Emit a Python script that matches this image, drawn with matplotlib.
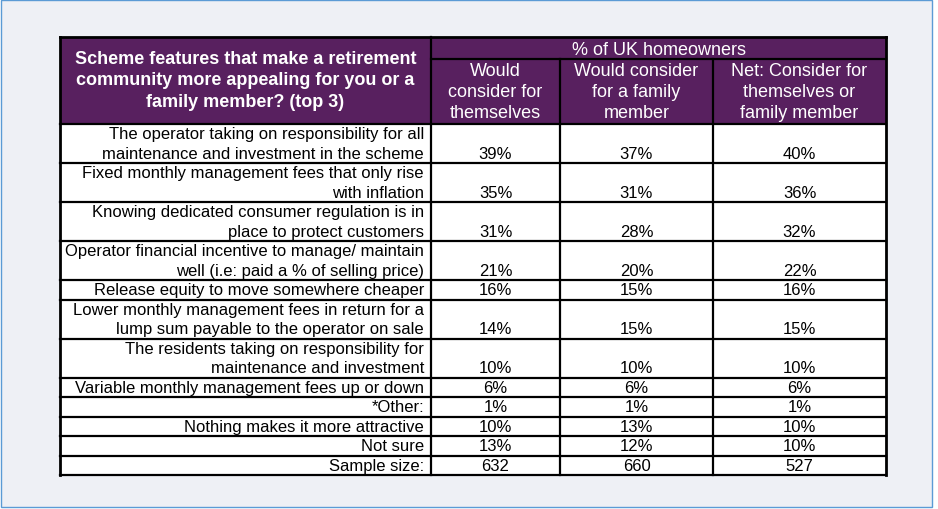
import matplotlib.pyplot as plt
from matplotlib.patches import Rectangle

plt.rcParams['font.family'] = ['Liberation Sans', 'DejaVu Sans']

# table content
title = "Scheme features that make a retirement\ncommunity more appealing for you or a\nfamily member? (top 3)"
group_header = "% of UK homeowners"
col_headers = [
    "Would\nconsider for\nthemselves",
    "Would consider\nfor a family\nmember",
    "Net: Consider for\nthemselves or\nfamily member",
]
features = [
    "The operator taking on responsibility for all\nmaintenance and investment in the scheme",
    "Fixed monthly management fees that only rise\nwith inflation",
    "Knowing dedicated consumer regulation is in\nplace to protect customers",
    "Operator financial incentive to manage/ maintain\nwell (i.e: paid a % of selling price)",
    "Release equity to move somewhere cheaper",
    "Lower monthly management fees in return for a\nlump sum payable to the operator on sale",
    "The residents taking on responsibility for\nmaintenance and investment",
    "Variable monthly management fees up or down",
    "*Other:",
    "Nothing makes it more attractive",
    "Not sure",
]
themselves = [39, 35, 31, 21, 16, 14, 10, 6, 1, 10, 13]
family = [37, 31, 28, 20, 15, 15, 10, 6, 1, 13, 12]
net = [40, 36, 32, 22, 16, 15, 10, 6, 1, 10, 10]
sample_size = [632, 660, 527]

purple = '#58205f'
bg = '#eef0f5'

fig = plt.figure(figsize=(9.38, 5.10), dpi=100)
fig.patch.set_facecolor('white')
ax = fig.add_axes([0, 0, 1, 1])
ax.set_xlim(0, 938)
ax.set_ylim(510, 0)
ax.axis('off')

# panel behind the table
ax.add_patch(Rectangle((1, 1), 931, 507, facecolor=bg, edgecolor='#5b9bd5', lw=1))

col_x = [60, 431, 560, 713, 886]
top, mid, head_bottom = 38, 60, 125
pitch = 19.5
fs = 12
hfs = 13

# header block
ax.add_patch(Rectangle((col_x[0], top), col_x[-1] - col_x[0], head_bottom - top,
                       facecolor=purple, edgecolor='none'))
for i, line in enumerate(title.split('\n')):
    ax.text((col_x[0] + col_x[1]) / 2, 64 + i * 21.3, line, color='white',
            fontsize=hfs, fontweight='bold', ha='center', va='baseline')
ax.text((col_x[1] + col_x[-1]) / 2, 55, group_header, color='white',
        fontsize=hfs, ha='center', va='baseline')
for c, hdr in enumerate(col_headers):
    for i, line in enumerate(hdr.split('\n')):
        ax.text((col_x[c + 1] + col_x[c + 2]) / 2, 76 + i * 20.8, line, color='white',
                fontsize=hfs, ha='center', va='baseline')

# body rows
rows = [(f, [f"{a}%", f"{b}%", f"{c}%"]) for f, a, b, c in zip(features, themselves, family, net)]
rows.append(("Sample size:", [str(s) for s in sample_size]))

y = head_bottom
bounds = [y]
for label, vals in rows:
    lines = label.split('\n')
    h = pitch * len(lines)
    ax.add_patch(Rectangle((col_x[0], y), col_x[-1] - col_x[0], h,
                           facecolor='white', edgecolor='none'))
    bottom = y + h
    for i, line in enumerate(reversed(lines)):
        ax.text(col_x[1] - 7, bottom - 5 - i * pitch, line, fontsize=fs,
                ha='right', va='baseline', color='black')
    for c, v in enumerate(vals):
        ax.text((col_x[c + 1] + col_x[c + 2]) / 2, bottom - 5, v, fontsize=fs,
                ha='center', va='baseline', color='black')
    y = bottom
    bounds.append(y)

table_bottom = y
lw = 1.6
for yy in bounds:
    ax.plot([col_x[0], col_x[-1]], [yy, yy], color='black', lw=lw, solid_capstyle='projecting')
ax.plot([col_x[1], col_x[-1]], [mid, mid], color='black', lw=lw)
ax.plot([col_x[0], col_x[-1]], [top, top], color='black', lw=lw + 0.4)
for i, xx in enumerate(col_x):
    y0 = mid if i in (2, 3) else top
    ax.plot([xx, xx], [y0, table_bottom], color='black', lw=lw + (0.4 if i in (0, 4) else 0))

fig.savefig('out.png', dpi=100, facecolor=fig.get_facecolor())
